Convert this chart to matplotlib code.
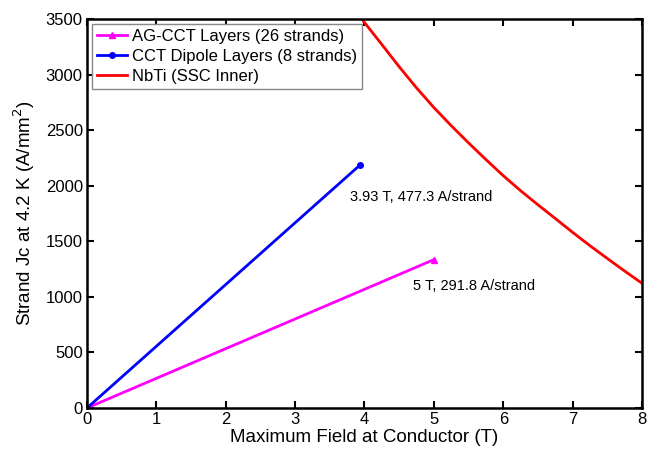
import matplotlib
matplotlib.use("Agg")
import matplotlib.pyplot as plt

plt.rcParams['font.family'] = ['Liberation Sans', 'DejaVu Sans']

# Data
agcct_x = [0, 5.0]
agcct_y = [0, 1335]
cct_x = [0, 3.93]
cct_y = [0, 2183]
nbti_x = [3.9, 4.0, 4.25, 4.5, 4.75, 5.0, 5.25, 5.5, 5.75, 6.0, 6.25, 6.5,
          6.75, 7.0, 7.25, 7.5, 7.75, 8.0]
nbti_y = [3550, 3468, 3270, 3070, 2880, 2703, 2540, 2385, 2235, 2090, 1955, 1828,
          1705, 1580, 1460, 1345, 1232, 1122]

labels = ['AG-CCT Layers (26 strands)', 'CCT Dipole Layers (8 strands)', 'NbTi (SSC Inner)']
annot1 = '3.93 T, 477.3 A/strand'
annot2 = '5 T, 291.8 A/strand'
xticks = [0, 1, 2, 3, 4, 5, 6, 7, 8]
yticks = [0, 500, 1000, 1500, 2000, 2500, 3000, 3500]

fig = plt.figure(figsize=(6.51, 4.51), dpi=100)
ax = fig.add_axes([0.1336, 0.0953, 0.8526, 0.8627])

ax.plot(agcct_x, agcct_y, color='#FF00FF', lw=2, marker='^', ms=5, label=labels[0])
ax.plot(cct_x, cct_y, color='#0000FF', lw=2, marker='o', ms=4, label=labels[1])
ax.plot(nbti_x, nbti_y, color='#FF0000', lw=2, label=labels[2])

ax.text(3.79, 1894, annot1, fontsize=10.5, va='center', ha='left')
ax.text(4.70, 1095, annot2, fontsize=10.5, va='center', ha='left')

ax.set_xlim(0, 8)
ax.set_ylim(0, 3500)
ax.set_xticks(xticks)
ax.set_yticks(yticks)
ax.tick_params(direction='in', top=True, right=True, labelsize=12, width=1.5, length=5, pad=3)
for s in ax.spines.values():
    s.set_linewidth(1.8)

ax.set_xlabel('Maximum Field at Conductor (T)', fontsize=13.5, labelpad=1)
ax.set_ylabel('Strand Jc at 4.2 K (A/mm$^2$)', fontsize=13.5, labelpad=6)

leg = ax.legend(loc='upper left', fontsize=12, fancybox=False, framealpha=1,
                edgecolor='#888888', borderaxespad=0.3, handlelength=1.8,
                handletextpad=0.3, borderpad=0.3, labelspacing=0.3)
leg.get_frame().set_linewidth(1)

fig.savefig('out.png', dpi=100)
